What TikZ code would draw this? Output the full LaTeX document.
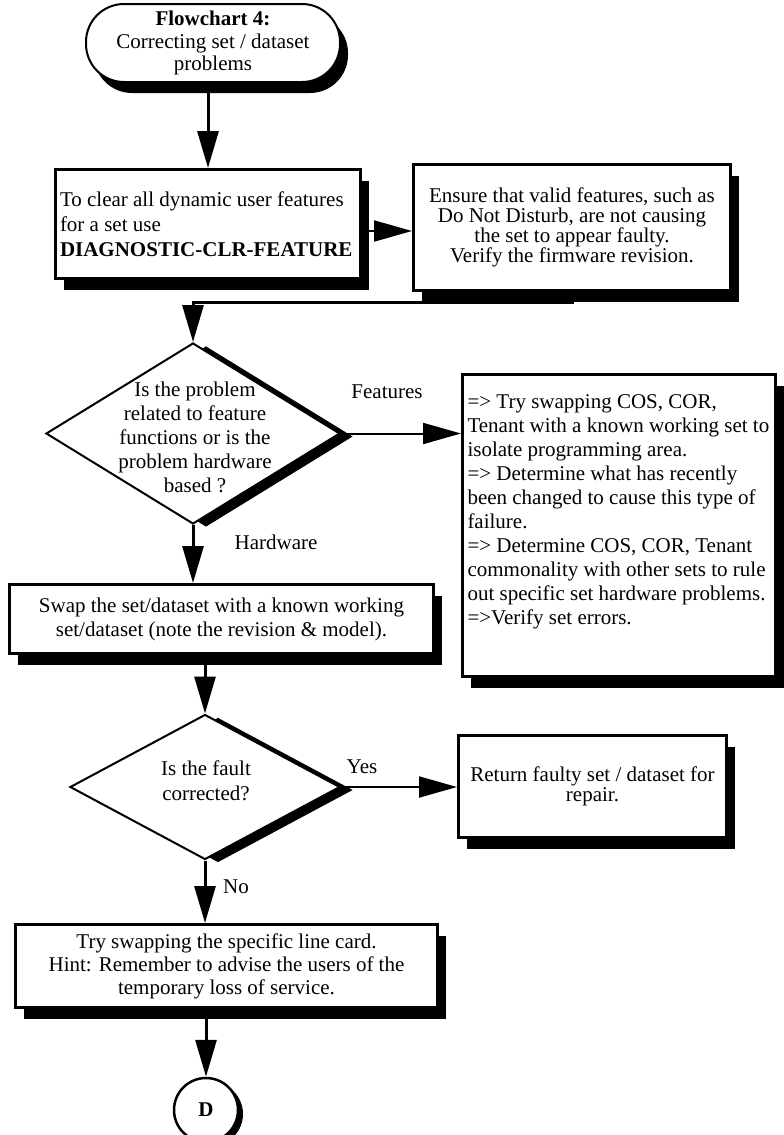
\documentclass[tikz,border=0pt]{standalone}
\usepackage{fontspec}
\setmainfont{Liberation Serif}
\usetikzlibrary{arrows.meta,shapes.geometric,shapes.misc,shadows}
\begin{document}
\begin{tikzpicture}[x=1pt,y=-1pt,
  boxshadow/.style={drop shadow={shadow xshift=8pt,shadow yshift=-11pt,fill=black,opacity=1}},
  procbox/.style={rectangle,draw,line width=3pt,fill=white,inner sep=0pt,boxshadow},
  decision/.style={diamond,draw,line width=2pt,fill=white,inner sep=0pt,
    drop shadow={shadow xshift=13pt,shadow yshift=-3pt,fill=black,opacity=1}},
  termbox/.style={rectangle,rounded corners=38pt,draw,line width=2pt,fill=white,inner sep=0pt,boxshadow},
  connector/.style={circle,draw,line width=2.5pt,fill=white,inner sep=0pt,
    drop shadow={shadow xshift=5pt,shadow yshift=-4pt,fill=black,opacity=1}},
  varr/.style={line width=3pt,-{Triangle[length=37pt,width=21pt]}},
  harr/.style={line width=2pt,-{Triangle[length=38pt,width=21pt]}},
  lbl/.style={font=\fontsize{21}{24}\selectfont,inner sep=0pt},
  dtext/.style={align=center,inner sep=0pt}
]
\useasboundingbox (0,0) rectangle (784,1135);

\node[termbox, minimum width=254pt, minimum height=78pt, align=center,
      font=\fontsize{21}{22.5}\selectfont] (start) at (213,43)
  {\textbf{Flowchart 4:}\\Correcting set / dataset\\problems};

\node[procbox, minimum width=305pt, minimum height=109pt, text width=296pt, align=flush left,
      font=\fontsize{21}{25}\selectfont] (b1) at (208,224)
  {To clear all dynamic user features\\for a set use\\\textbf{DIAGNOSTIC-CLR-FEATURE}};

\node[procbox, minimum width=317pt, minimum height=126pt, align=center,
      font=\fontsize{21}{20}\selectfont] (b2) at (572,227.5)
  {Ensure that valid features, such as\\Do Not Disturb, are not causing\\the set to appear faulty.\\Verify the firmware revision.};

\node[decision, minimum width=294pt, minimum height=181pt] (d1) at (193,433.5) {};
\node[dtext, font=\fontsize{21}{24}\selectfont] (d1t) at (195,437)
  {Is the problem\\related to feature\\functions or is the\\problem hardware\\based ?};

\node[procbox, minimum width=313pt, minimum height=302pt, font=\fontsize{21}{24}\selectfont] (b4) at (619,525.5)
  {\parbox[c][300pt][t]{303pt}{\raggedright\rule{0pt}{33pt}=> Try swapping COS, COR,\\
  Tenant with a known working set to\\
  isolate programming area.\\
  => Determine what has recently\\
  been changed to cause this type of\\
  failure.\\
  => Determine COS, COR, Tenant\\
  commonality with other sets to rule\\
  out specific set hardware problems.\\
  =>Verify set errors.}};

\node[procbox, minimum width=424pt, minimum height=69pt, align=center,
      font=\fontsize{21}{24}\selectfont] (b3) at (221.5,619)
  {Swap the set/dataset with a known working\\set/dataset (note the revision \& model).};

\node[decision, minimum width=270pt, minimum height=145pt] (d2) at (205,787) {};
\node[dtext, font=\fontsize{21}{25}\selectfont] (d2t) at (206,781)
  {Is the fault\\corrected?};

\node[procbox, minimum width=268pt, minimum height=102pt, align=center,
      font=\fontsize{21}{20}\selectfont] (b5) at (592.5,786.5)
  {Return faulty set / dataset for\\repair.};

\node[procbox, minimum width=422pt, minimum height=83pt, align=center,
      font=\fontsize{21}{23}\selectfont] (b6) at (226.5,966)
  {Try swapping the specific line card.\\Hint: Remember to advise the users of the\\temporary loss of service.};

\node[connector, minimum size=64pt, font=\bfseries\fontsize{21}{24}\selectfont] (D) at (206,1110) {D};

\node[lbl] (lf) at (387,392) {Features};
\node[lbl] (lh) at (276,542) {Hardware};
\node[lbl] (ly) at (362,767) {Yes};
\node[lbl] (ln) at (236,887) {No};

\coordinate (j1) at (193,302);

\draw[varr] (start.south -| b1.north) -- (b1.north);
\draw[harr] ([yshift=-7pt]b1.east) -- ([yshift=-7pt]b1.east -| b2.west);
\draw[varr] (b2.south) |- (j1) -- (d1.north);
\draw[varr] (d1.south) -- (d1.south |- b3.north);
\draw[harr] (d1.east) -- (d1.east -| b4.west);
\draw[varr] (b3.south -| d2.north) -- (d2.north);
\draw[harr] (d2.east) -- (d2.east -| b5.west);
\draw[varr] (d2.south) -- (d2.south |- b6.north);
\draw[varr] (b6.south -| D.north) -- (D.north);
\end{tikzpicture}
\end{document}
